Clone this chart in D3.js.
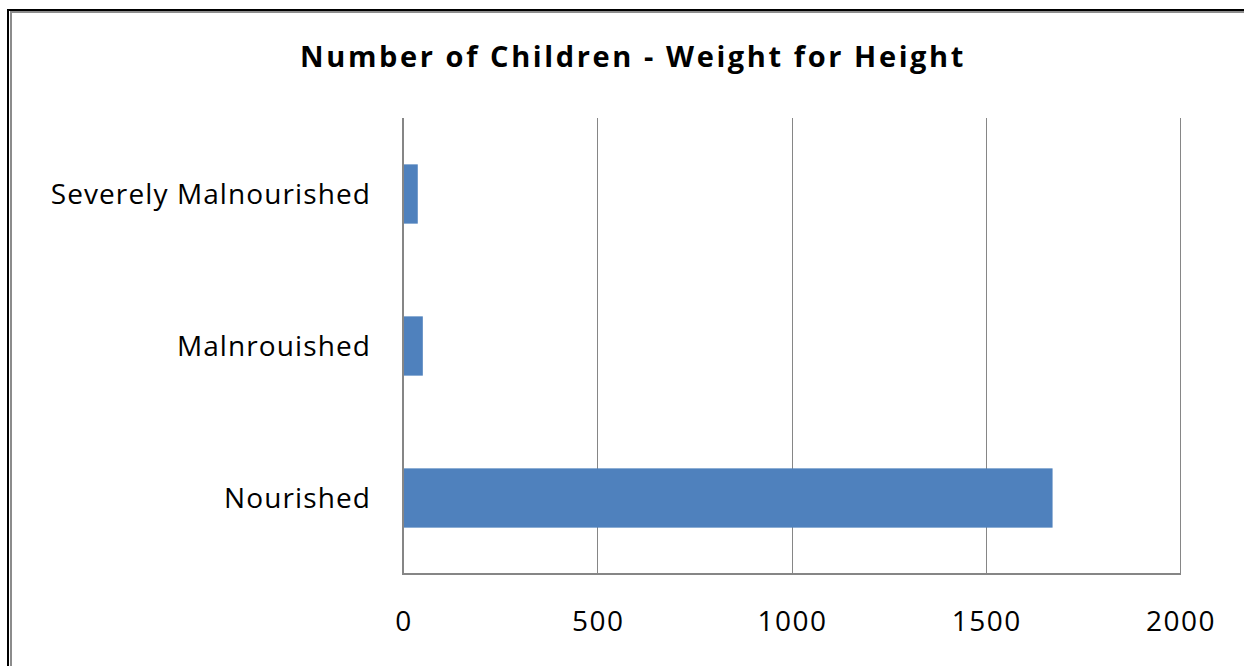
<!DOCTYPE html>
<html>
<head>
<meta charset="utf-8">
<script src="https://cdn.jsdelivr.net/npm/d3@7"></script>
<style>
  html, body { margin: 0; padding: 0; background: #fff; }
  svg { display: block; }
  text { font-family: "Open Sans", "DejaVu Sans", sans-serif; fill: #000; }
</style>
</head>
<body>
<svg id="chart" width="1244" height="666"></svg>
<script>
// Chart data
const categories = ["Severely Malnourished", "Malnrouished", "Nourished"];
const counts = [38, 51, 1672];
const tickValues = [0, 500, 1000, 1500, 2000];
const title = "Number of Children - Weight for Height";

const svg = d3.select("#chart");
const W = 1244, H = 666;

// Frame: dark outer edge with a grey inner edge, open on the right and bottom
svg.append("path").attr("d", `M8,${H} V10 H${W}`)
  .attr("fill", "none").attr("stroke", "#000").attr("stroke-width", 2);
svg.append("path").attr("d", `M11,${H} V12 H${W}`)
  .attr("fill", "none").attr("stroke", "#8c8c8c").attr("stroke-width", 2);

// Plot area
const plot = { left: 403, right: 1180, top: 118, bottom: 574 };

const x = d3.scaleLinear().domain([0, 2000]).range([plot.left, plot.right]);
const y = d3.scaleBand().domain(categories).range([plot.top, plot.bottom])
  .paddingInner(0.61).paddingOuter(0.305);

// Vertical gridlines
svg.append("g").selectAll("line")
  .data(tickValues.filter(v => v > 0))
  .join("line")
  .attr("x1", d => Math.round(x(d)) + 0.5).attr("x2", d => Math.round(x(d)) + 0.5)
  .attr("y1", plot.top).attr("y2", plot.bottom)
  .attr("stroke", "#868686").attr("stroke-width", 1);

// Bars
svg.append("g").selectAll("rect")
  .data(categories.map((c, i) => ({ c, v: counts[i] })))
  .join("rect")
  .attr("x", x(0))
  .attr("y", d => y(d.c))
  .attr("width", d => x(d.v) - x(0))
  .attr("height", y.bandwidth())
  .attr("fill", "#4F81BD");

// Axis lines
svg.append("line")
  .attr("x1", x(0)).attr("x2", x(0))
  .attr("y1", plot.top).attr("y2", plot.bottom + 1)
  .attr("stroke", "#868686").attr("stroke-width", 2);
svg.append("line")
  .attr("x1", x(0) - 1).attr("x2", plot.right + 1)
  .attr("y1", plot.bottom).attr("y2", plot.bottom)
  .attr("stroke", "#868686").attr("stroke-width", 2);

// X tick labels
svg.append("g").selectAll("text")
  .data(tickValues)
  .join("text")
  .attr("x", d => x(d) + 1)
  .attr("y", 631)
  .attr("text-anchor", "middle")
  .attr("font-size", 28)
  .attr("letter-spacing", 1.5)
  .text(d => d);

// Category labels
svg.append("g").selectAll("text")
  .data(categories)
  .join("text")
  .attr("x", 371)
  .attr("y", d => y(d) + y.bandwidth() / 2 + 9.5)
  .attr("text-anchor", "end")
  .attr("font-size", 28)
  .attr("letter-spacing", 1.1)
  .text(d => d);

// Title
svg.append("text")
  .attr("x", 633).attr("y", 67)
  .attr("text-anchor", "middle")
  .attr("font-size", 29)
  .attr("font-weight", "bold")
  .attr("letter-spacing", 2.6)
  .text(title);
</script>
</body>
</html>
